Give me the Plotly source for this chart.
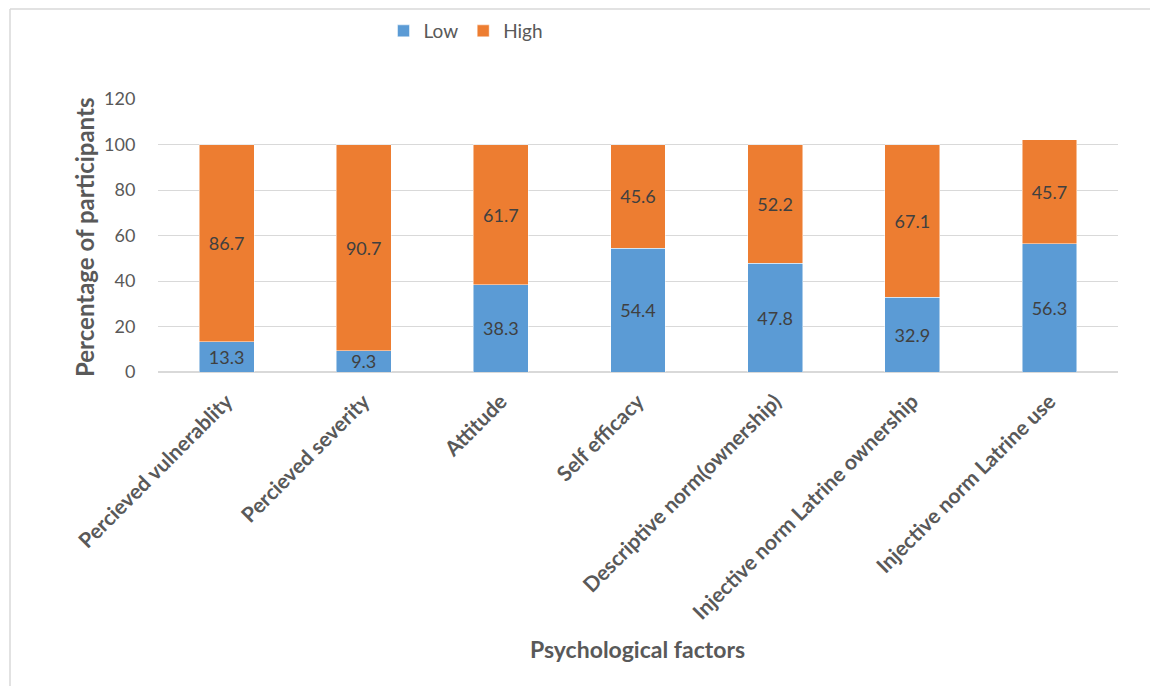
import plotly.graph_objects as go

# Share of participants rating each psychological factor Low / High (%)
factors = [
    "Percieved vulnerablity",
    "Percieved severity",
    "Attitude",
    "Self efficacy",
    "Descriptive norm(ownership)",
    "Injective norm Latrine ownership",
    "Injective norm Latrine use",
]
low = [13.3, 9.3, 38.3, 54.4, 47.8, 32.9, 56.3]
high = [86.7, 90.7, 61.7, 45.6, 52.2, 67.1, 45.7]
y_ticks = [0, 20, 40, 60, 80, 100, 120]

FONT = "Lato"
TICK_GREY = "#595959"
LABEL_GREY = "#404040"
GRID = "#d9d9d9"

fig = go.Figure()
for name, vals, color in [("Low", low, "#5B9BD5"), ("High", high, "#ED7D31")]:
    fig.add_trace(go.Bar(
        name=name,
        x=factors,
        y=vals,
        marker=dict(color=color, line=dict(color="rgba(255,255,255,0.6)", width=0.8)),
        text=[f"{v:.1f}" for v in vals],
        textposition="inside",
        insidetextanchor="middle",
        constraintext="none",
        textfont=dict(family=FONT, size=18, color=LABEL_GREY),
        width=0.4,
    ))

# plot area: x 158..1118, y 99..372 (px)
L, R, T, B = 158, 32, 99, 314
W, H = 1150, 686
pw, ph = W - L - R, H - T - B

def px_x(p):
    return (p - L) / pw

def px_y(p):
    return (H - B - p) / ph

fig.update_layout(
    width=W, height=H,
    margin=dict(l=L, r=R, t=T, b=B, autoexpand=False),
    barmode="stack",
    bargap=0.6,
    plot_bgcolor="white",
    paper_bgcolor="white",
    font=dict(family=FONT, color=TICK_GREY),
    showlegend=True,
    legend=dict(
        orientation="h",
        x=px_x(466), xanchor="center",
        y=px_y(31), yanchor="middle",
        font=dict(family=FONT, size=19, color=TICK_GREY),
        itemwidth=30,
        traceorder="normal",
    ),
    xaxis=dict(
        tickangle=-45,
        tickfont=dict(family=FONT, size=21, color=TICK_GREY, weight="bold"),
        ticks="outside", ticklen=8, tickcolor="rgba(0,0,0,0)",
        showgrid=False,
        showline=False,
    ),
    yaxis=dict(
        range=[0, 120],
        tickvals=y_ticks,
        tickfont=dict(family=FONT, size=18, color=TICK_GREY),
        ticks="outside", ticklen=18, tickcolor="rgba(0,0,0,0)",
        showgrid=True, gridcolor=GRID, gridwidth=1.3,
        zeroline=True, zerolinecolor=GRID, zerolinewidth=1.5,
        showline=False,
    ),
    annotations=[
        dict(text="<b>Percentage of participants</b>", xref="paper", yref="paper",
             x=px_x(84), y=px_y(238), xanchor="center", yanchor="middle",
             textangle=-90, showarrow=False,
             font=dict(family=FONT, size=24, color=TICK_GREY)),
        dict(text="<b>Psychological factors</b>", xref="paper", yref="paper",
             x=px_x(637), y=px_y(649), xanchor="center", yanchor="middle",
             showarrow=False,
             font=dict(family=FONT, size=23, color=TICK_GREY)),
    ],
    shapes=[
        dict(type="line", xref="paper", yref="paper",
             x0=px_x(10), x1=px_x(1160), y0=px_y(9), y1=px_y(9),
             line=dict(color=GRID, width=1.5)),
        dict(type="line", xref="paper", yref="paper",
             x0=px_x(10), x1=px_x(10), y0=px_y(9), y1=px_y(690),
             line=dict(color=GRID, width=1.5)),
    ],
)

fig.write_html("out.html")
